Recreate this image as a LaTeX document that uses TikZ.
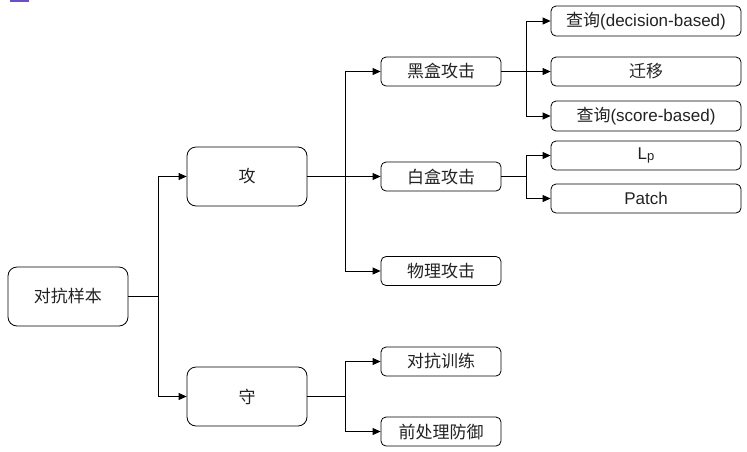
\documentclass[tikz,border=0pt]{standalone}
\usepackage{fontspec}
\setmainfont{Liberation Sans}
\newfontfamily\cjk{Noto Sans CJK SC}
\usetikzlibrary{arrows.meta}
\definecolor{txt}{HTML}{222222}
\definecolor{purp}{HTML}{6A4FC8}
\begin{document}
\begin{tikzpicture}[x=1pt,y=-1pt,
  box/.style={draw=black,line width=0.8pt,rounded corners=5pt,minimum width=#1,inner sep=0pt,font=\fontsize{17}{19}\selectfont,text=txt},
  box/.default=120pt,
  big/.style={rounded corners=9pt,minimum height=59pt},
  conn/.style={draw=black,line width=0.8pt,-{Triangle[length=8pt,width=7pt]}},
  line/.style={draw=black,line width=0.8pt}]
\useasboundingbox (0,0) rectangle (747,451);
\fill[purp] (10,0) rectangle (29,1.5);
\node[box=120pt,big] (root) at (68,296.5) {\cjk 对抗样本};
\node[box=120pt,big] (gong) at (247,176.5) {\cjk 攻};
\node[box=120pt,big] (shou) at (247,396.5) {\cjk 守};
\node[box=120pt,minimum height=29pt] (hei) at (441,71.5) {\cjk 黑盒攻击};
\node[box=120pt,minimum height=29pt] (bai) at (441,176.5) {\cjk 白盒攻击};
\node[box=120pt,minimum height=29pt] (wu) at (441,271) {\cjk 物理攻击};
\node[box=120pt,minimum height=29pt] (dk) at (441,361.5) {\cjk 对抗训练};
\node[box=120pt,minimum height=29pt] (qc) at (441,431.5) {\cjk 前处理防御};
\node[box=190pt,minimum height=30pt] (q1) at (646,21) {{\cjk 查询}(decision-based)};
\node[box=190pt,minimum height=29pt] (qy) at (646,71.5) {\cjk 迁移};
\node[box=190pt,minimum height=30pt] (q2) at (646,116) {{\cjk 查询}(score-based)};
\node[box=190pt,minimum height=29pt] (lp) at (646,155.5) {L\raisebox{-1.5pt}{\fontsize{13}{15}\selectfont p}};
\node[box=190pt,minimum height=29pt] (pa) at (646,198.5) {Patch};
\coordinate (j0) at (158,296.5);
\coordinate (j1) at (345,176.5);
\coordinate (j2) at (345,396.5);
\coordinate (j3) at (526,71.5);
\coordinate (j4) at (526,176.5);
\draw[line] (root.east) -- (j0);
\draw[conn] (j0) |- (gong.west);
\draw[conn] (j0) |- (shou.west);
\draw[line] (gong.east) -- (j1);
\draw[conn] (j1) |- (hei.west);
\draw[conn] (j1) -- (bai.west);
\draw[conn] (j1) |- (wu.west);
\draw[line] (shou.east) -- (j2);
\draw[conn] (j2) |- (dk.west);
\draw[conn] (j2) |- (qc.west);
\draw[line] (hei.east) -- (j3);
\draw[conn] (j3) |- (q1.west);
\draw[conn] (j3) -- (qy.west);
\draw[conn] (j3) |- (q2.west);
\draw[line] (bai.east) -- (j4);
\draw[conn] (j4) |- (lp.west);
\draw[conn] (j4) |- (pa.west);
\end{tikzpicture}
\end{document}
